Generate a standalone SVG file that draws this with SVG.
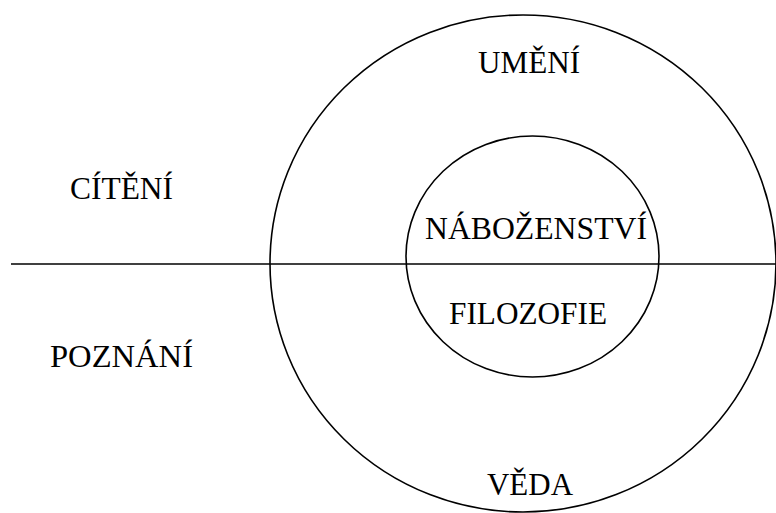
<svg xmlns="http://www.w3.org/2000/svg" width="776" height="513" viewBox="0 0 776 513">
<style>
.s{fill:none;stroke:#000;stroke-width:1.6}
.t{font-family:"Liberation Serif","Times New Roman",serif;font-size:32px;fill:#000}
</style>
<rect width="776" height="513" fill="#fff"/>
<g id="connectors">
<line class="s" x1="11" y1="264" x2="776" y2="264" stroke-width="2"/>
</g>
<g id="outer"><ellipse class="s" cx="523" cy="263.5" rx="253" ry="248.5"/></g>
<g id="inner"><ellipse class="s" cx="532.5" cy="256.5" rx="126.5" ry="120.5"/></g>
<g id="citeni"><text class="t" x="70" y="198.5" textLength="103" lengthAdjust="spacingAndGlyphs">CÍTĚNÍ</text></g>
<g id="poznani"><text class="t" x="50" y="367" textLength="143" lengthAdjust="spacingAndGlyphs">POZNÁNÍ</text></g>
<g id="umeni"><text class="t" x="478" y="73" textLength="102" lengthAdjust="spacingAndGlyphs">UMĚNÍ</text></g>
<g id="nabozenstvi"><text class="t" x="425" y="238.5" textLength="222" lengthAdjust="spacingAndGlyphs">NÁBOŽENSTVÍ</text></g>
<g id="filozofie"><text class="t" x="449" y="323.5" textLength="158" lengthAdjust="spacingAndGlyphs">FILOZOFIE</text></g>
<g id="veda"><text class="t" x="487" y="494.5" textLength="86" lengthAdjust="spacingAndGlyphs">VĚDA</text></g>
</svg>
